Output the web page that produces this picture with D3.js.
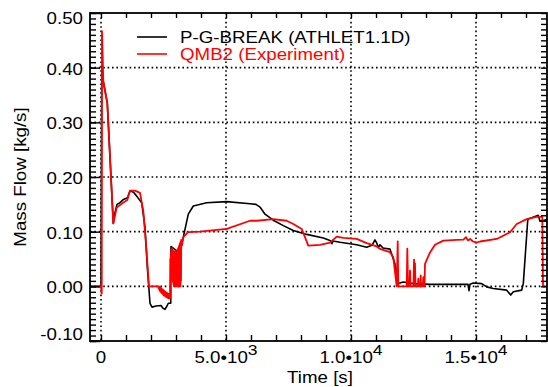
<!DOCTYPE html>
<html>
<head>
<meta charset="utf-8">
<script src="https://cdn.jsdelivr.net/npm/d3@7"></script>
<style>
  body { margin: 0; background: #fff; }
  text { font-family: "Liberation Sans", Arial, sans-serif; }
</style>
</head>
<body>
<svg id="canvas" width="548" height="387"></svg>
<script>
// --- data: [time s, mass flow kg/s] ---
let athletSeries = [
    [-440, 0], [0, 0], [30, 0.40], [92, 0.375], [252, 0.335], [492, 0.115], [560, 0.135],
    [640, 0.150], [760, 0.153], [900, 0.159], [1060, 0.162], [1160, 0.175], [1300, 0.172],
    [1428, 0.165], [1628, 0.153], [1760, 0.108], [1860, 0.03], [1960, -0.031], [2040, -0.038],
    [2200, -0.036], [2400, -0.035], [2480, -0.04], [2560, -0.042], [2640, -0.036], [2692, -0.031],
    [2790, -0.031], [2800, 0.073], [3028, 0.065], [3160, 0.062], [3292, 0.09], [3492, 0.132],
    [3692, 0.147], [4228, 0.153], [5028, 0.155], [5960, 0.151], [6200, 0.150], [6360, 0.145],
    [6560, 0.132], [6892, 0.121], [7292, 0.111], [7692, 0.102], [8228, 0.095], [8892, 0.0885],
    [9160, 0.084], [9240, 0.078], [9280, 0.083], [9560, 0.0806], [10228, 0.076], [10628, 0.0715],
    [10840, 0.075], [10960, 0.085], [11040, 0.078], [11092, 0.071], [11160, 0.076], [11280, 0.07],
    [11560, 0.068], [11760, 0.041], [11892, 0.005], [12092, 0.008], [12492, 0.005], [13160, 0.0036],
    [13828, 0.0036], [14680, 0.0036], [14720, -0.008], [14760, 0.004], [14892, 0.006], [15228, 0.005],
    [15428, -0.001], [15692, -0.004], [16228, -0.007], [16388, -0.016], [16492, -0.010], [16828, -0.007],
    [16892, 0.005], [17068, 0.12], [17092, 0.123], [17492, 0.13], [17560, 0.119], [17840, 0.122]
]

let qmbSeries = [
    [-440, 0], [0, 0], [20, -0.013], [30, -0.013], [40, 0.467], [92, 0.375], [252, 0.335],
    [492, 0.115], [628, 0.144], [880, 0.153], [1052, 0.158], [1160, 0.175], [1360, 0.175],
    [1560, 0.171], [1692, 0.138], [1828, 0.06], [1920, 0], [2292, 0],
    [2310, -0.004], [2320, 0], [2330, -0.006], [2340, -0.001], [2350, -0.008], [2360, -0.002],
    [2370, -0.009], [2380, -0.003], [2390, -0.010], [2400, -0.003], [2410, -0.011], [2420, -0.004],
    [2430, -0.012], [2440, -0.005], [2450, -0.013], [2460, -0.006], [2470, -0.014], [2480, -0.006],
    [2490, -0.015], [2500, -0.007], [2510, -0.016], [2520, -0.008], [2530, -0.017], [2540, -0.009],
    [2550, -0.017], [2560, -0.010], [2570, -0.018], [2580, -0.010], [2590, -0.019], [2600, -0.011],
    [2610, -0.019], [2620, -0.012], [2630, -0.020], [2640, -0.012], [2650, -0.020], [2660, -0.013],
    [2670, -0.021], [2680, -0.014], [2690, -0.021], [2700, -0.014], [2710, -0.022], [2720, -0.015],
    [2730, -0.022], [2740, -0.016], [2750, -0.022], [2760, -0.022],
    [2770, 0.05], [2780, 0.02], [2790, 0.06], [2800, 0.025], [2810, 0.065], [2820, 0.02],
    [2830, 0.068], [2840, 0.015], [2850, 0.07], [2860, 0.01], [2870, 0.066], [2880, 0.008],
    [2890, 0.065], [2900, 0.004], [2910, 0.063], [2920, 0.0], [2930, 0.06], [2940, 0.002],
    [2950, 0.062], [2960, 0.0], [2970, 0.065], [2980, 0.0], [2990, 0.062], [3000, 0.0],
    [3010, 0.06], [3020, 0.0], [3030, 0.063], [3040, 0.0], [3050, 0.065], [3060, 0.004],
    [3070, 0.068], [3080, 0.0], [3090, 0.07], [3100, 0.0], [3110, 0.072], [3120, 0.0],
    [3130, 0.075], [3140, 0.0], [3150, 0.078], [3160, 0.0], [3170, 0.08], [3180, 0.0],
    [3190, 0.082], [3200, 0.01], [3210, 0.085], [3240, 0.075],
    [3292, 0.09], [3480, 0.099], [3960, 0.1], [5028, 0.105], [5960, 0.12], [6228, 0.12],
    [6892, 0.123], [7428, 0.12], [7692, 0.114], [8028, 0.105], [8292, 0.0745], [8760, 0.076],
    [9160, 0.08], [9428, 0.091], [9692, 0.0885], [10228, 0.0867], [10628, 0.079], [11028, 0.073],
    [11160, 0.0685], [11560, 0.0624], [11692, 0.053], [11828, 0],
    [11868, 0.082], [11892, 0], [12230, 0], [12252, 0.069], [12280, 0], [12340, 0], [12360, 0.029],
    [12380, 0], [12500, 0], [12520, 0.049], [12540, 0], [12560, 0.042], [12580, 0], [12670, 0],
    [12692, 0.014], [12710, 0], [12770, 0], [12788, 0.02], [12805, 0], [12875, 0], [12892, 0.017],
    [12910, 0], [12940, 0], [12960, 0.041], [13160, 0.062], [13360, 0.076], [13692, 0.0836],
    [14228, 0.085], [14500, 0.0855], [14600, 0.09], [14680, 0.084], [14760, 0.0867], [14880, 0.082],
    [15028, 0.08], [15160, 0.082], [15828, 0.0867], [16360, 0.099], [16628, 0.114], [17028, 0.123],
    [17428, 0.127], [17652, 0.127], [17680, 0], [17880, 0]
]

let yTickValues = [-0.1, 0.0, 0.1, 0.2, 0.3, 0.4, 0.5]
let yTickLabels = ['-0.10', '0.00', '0.10', '0.20', '0.30', '0.40', '0.50']
let xTickValues = [0, 5000, 10000, 15000]
let xTickLabels = [['0', ''], ['5.0\u202210', '3'], ['1.0\u202210', '4'], ['1.5\u202210', '4']]
let legendNames = ['P-G-BREAK (ATHLET1.1D)', 'QMB2 (Experiment)']
let legendColors = ['#000000', '#ff0000']

// --- layout ---
let plotLeft = 90, plotRight = 547, plotTop = 13, plotBottom = 341
let stretch = 1.17

let canvas = d3.select('#canvas')

let xScale = d3.scaleLinear().domain([-440, 17840]).range([plotLeft, plotRight])
let yScale = d3.scaleLinear().domain([-0.1, 0.5]).range([plotBottom, plotTop])

canvas.append('defs').append('clipPath').attr('id', 'plotclip')
    .append('rect')
    .attr('x', plotLeft).attr('y', plotTop)
    .attr('width', plotRight - plotLeft).attr('height', plotBottom - plotTop)

// grid
let grid = canvas.append('g')
    .attr('stroke', '#000')
    .attr('stroke-width', 1.6)
    .attr('stroke-dasharray', '1.6,2.8')

grid.selectAll('.hgrid')
    .data(yTickValues.filter((v) => v > -0.1 && v < 0.5))
    .enter()
    .append('line')
    .attr('x1', plotLeft).attr('x2', plotRight)
    .attr('y1', (v) => yScale(v)).attr('y2', (v) => yScale(v))

grid.selectAll('.vgrid')
    .data(xTickValues)
    .enter()
    .append('line')
    .attr('y1', plotTop).attr('y2', plotBottom)
    .attr('x1', (t) => xScale(t)).attr('x2', (t) => xScale(t))

// curves
let line = d3.line()
    .x((d) => xScale(d[0]))
    .y((d) => yScale(d[1]))

let plot = canvas.append('g').attr('clip-path', 'url(#plotclip)')

plot.append('path')
    .datum(athletSeries)
    .attr('d', line)
    .attr('fill', 'none')
    .attr('stroke', '#000')
    .attr('stroke-width', 1.6)
    .attr('stroke-linejoin', 'round')

plot.append('path')
    .datum(qmbSeries)
    .attr('d', line)
    .attr('fill', 'none')
    .attr('stroke', '#ff0000')
    .attr('stroke-width', 1.8)
    .attr('stroke-linejoin', 'round')

// axes (tick marks only)
let minorY = d3.range(-10, 51).map((i) => i / 100)
let minorX = d3.range(0, 18).map((i) => i * 1000)

let styleAxis = (g) => {
    g.select('.domain').remove()
    g.selectAll('line').attr('stroke', '#000').attr('stroke-width', 1.4)
}

canvas.append('g').attr('transform', 'translate(' + plotLeft + ',0)')
    .call(d3.axisRight(yScale).tickValues(minorY).tickSize(6).tickFormat(''))
    .call(styleAxis)
canvas.append('g').attr('transform', 'translate(' + plotLeft + ',0)')
    .call(d3.axisRight(yScale).tickValues(yTickValues).tickSize(10).tickFormat(''))
    .call(styleAxis)
canvas.append('g').attr('transform', 'translate(' + plotRight + ',0)')
    .call(d3.axisLeft(yScale).tickValues(minorY).tickSize(6).tickFormat(''))
    .call(styleAxis)
canvas.append('g').attr('transform', 'translate(0,' + plotBottom + ')')
    .call(d3.axisTop(xScale).tickValues(minorX).tickSize(6).tickFormat(''))
    .call(styleAxis)
canvas.append('g').attr('transform', 'translate(0,' + plotTop + ')')
    .call(d3.axisBottom(xScale).tickValues(minorX).tickSize(5).tickFormat(''))
    .call(styleAxis)

// frame
canvas.append('rect')
    .attr('x', plotLeft).attr('y', plotTop)
    .attr('width', plotRight - plotLeft).attr('height', plotBottom - plotTop)
    .attr('fill', 'none')
    .attr('stroke', '#000')
    .attr('stroke-width', 1.8)

// y tick labels
canvas.selectAll('.ylab')
    .data(yTickValues)
    .enter()
    .append('text')
    .attr('transform', (v, i) => {
        let y = yScale(v) + 7
        y = Math.max(y, 24)
        y = Math.min(y, 340)
        return 'translate(83,' + y + ') scale(' + stretch + ',1)'
    })
    .attr('text-anchor', 'end')
    .attr('font-size', 16)
    .text((v, i) => yTickLabels[i])

// x tick labels
let xlab = canvas.selectAll('.xlab')
    .data(xTickValues)
    .enter()
    .append('text')
    .attr('transform', (t) => 'translate(' + xScale(t) + ',363) scale(' + stretch + ',1)')
    .attr('text-anchor', 'middle')
    .attr('font-size', 16)

xlab.append('tspan').text((t, i) => xTickLabels[i][0])
xlab.append('tspan')
    .attr('dy', -8)
    .attr('font-size', 15)
    .text((t, i) => xTickLabels[i][1])

// axis titles
canvas.append('text')
    .attr('transform', 'translate(320,383) scale(' + stretch + ',1)')
    .attr('text-anchor', 'middle')
    .attr('font-size', 16)
    .text('Time [s]')

canvas.append('text')
    .attr('transform', 'translate(26,177) rotate(-90) scale(' + stretch + ',1)')
    .attr('text-anchor', 'middle')
    .attr('font-size', 16)
    .text('Mass Flow [kg/s]')

// legend
let legend = canvas.selectAll('.legend')
    .data(legendNames)
    .enter()
    .append('g')
    .attr('transform', (d, i) => 'translate(0,' + (37 + i * 17) + ')')

legend.append('line')
    .attr('x1', 137).attr('x2', 167)
    .attr('y1', 0).attr('y2', 0)
    .attr('stroke', (d, i) => legendColors[i])
    .attr('stroke-width', 1.6)

legend.append('text')
    .attr('transform', 'translate(180,6) scale(' + stretch + ',1)')
    .attr('font-size', 16)
    .attr('fill', (d, i) => legendColors[i])
    .text((d) => d)
</script>
</body>
</html>
